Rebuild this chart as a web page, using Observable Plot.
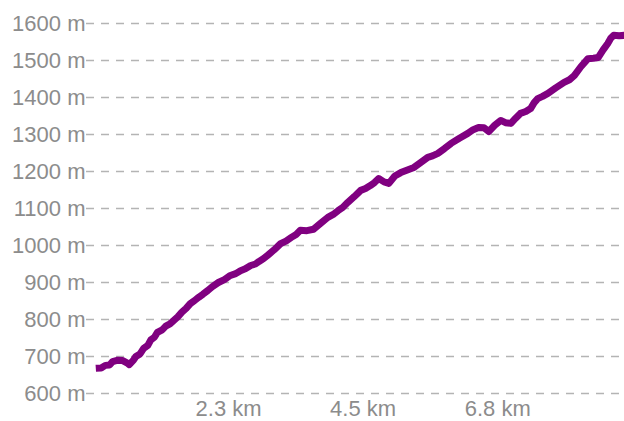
<!DOCTYPE html>
<html>
<head>
<meta charset="utf-8">
<script src="https://cdn.jsdelivr.net/npm/d3@7"></script>
<script src="https://cdn.jsdelivr.net/npm/@observablehq/plot@0.6"></script>
<style>
  html, body { margin: 0; padding: 0; background: #fff; }
  #chart svg { display: block; }
</style>
</head>
<body>
<div id="chart"></div>
<script>
// distance along route (km)
const dist = [0.03, 0.12, 0.19, 0.26, 0.31, 0.40, 0.48, 0.55, 0.59, 0.66, 0.70, 0.77, 0.83, 0.90, 0.95, 1.01, 1.06, 1.14, 1.20, 1.27, 1.33, 1.40, 1.47, 1.54, 1.61, 1.68, 1.75, 1.82, 1.90, 1.98, 2.08, 2.18, 2.28, 2.37, 2.45, 2.53, 2.62, 2.70, 2.76, 2.83, 2.90, 3.01, 3.12, 3.21, 3.30, 3.38, 3.45, 3.56, 3.67, 3.79, 3.91, 4.00, 4.08, 4.16, 4.24, 4.35, 4.46, 4.54, 4.62, 4.69, 4.76, 4.85, 4.93, 5.03, 5.13, 5.24, 5.35, 5.46, 5.58, 5.66, 5.75, 5.86, 5.97, 6.11, 6.25, 6.34, 6.43, 6.52, 6.60, 6.70, 6.80, 6.88, 6.97, 7.05, 7.13, 7.22, 7.30, 7.36, 7.42, 7.50, 7.59, 7.72, 7.86, 7.95, 8.03, 8.14, 8.26, 8.35, 8.43, 8.51, 8.59, 8.64, 8.69, 8.78, 8.87];
// elevation (m)
const elev = [668, 669, 676, 677, 686, 690, 689, 683, 678, 690, 700, 707, 722, 730, 745, 752, 765, 772, 782, 788, 797, 807, 820, 830, 843, 851, 860, 868, 878, 889, 900, 908, 919, 924, 932, 937, 946, 950, 957, 964, 973, 988, 1005, 1012, 1022, 1030, 1041, 1040, 1044, 1060, 1076, 1084, 1094, 1103, 1116, 1132, 1149, 1154, 1162, 1170, 1181, 1172, 1168, 1188, 1197, 1204, 1211, 1224, 1238, 1242, 1249, 1262, 1276, 1290, 1303, 1313, 1319, 1318, 1308, 1325, 1338, 1332, 1330, 1344, 1357, 1362, 1370, 1386, 1397, 1403, 1411, 1426, 1441, 1448, 1459, 1483, 1505, 1506, 1508, 1528, 1546, 1560, 1568, 1567, 1568];
const yTicks = [600, 700, 800, 900, 1000, 1100, 1200, 1300, 1400, 1500, 1600];
const xTicks = [2.25, 4.5, 6.75];

const data = dist.map((d, i) => ({dist: d, elev: elev[i]}));

const chart = Plot.plot({
  width: 624,
  height: 421,
  marginLeft: 86,
  marginRight: 0,
  marginTop: 23,
  marginBottom: 28,
  style: {fontFamily: "'Liberation Sans', Arial, sans-serif", color: "#8c8c8c", background: "#fff"},
  x: {domain: [0, 8.87], range: [93.5, 624], label: null},
  y: {domain: [600, 1600], label: null},
  marks: [
    Plot.gridY(yTicks, {stroke: "#b4b4b4", strokeOpacity: 1, strokeWidth: 1.5, strokeDasharray: "8,7"}),
    Plot.axisY({ticks: yTicks, tickFormat: d => d + " m", tickSize: 0, tickPadding: 1, fontSize: 22, label: null}),
    Plot.axisX({ticks: xTicks, tickFormat: d => d.toFixed(1) + " km", tickSize: 0, tickPadding: 7, fontSize: 22, label: null}),
    Plot.line(data, {x: "dist", y: "elev", stroke: "#800080", strokeWidth: 7, strokeLinejoin: "round", strokeLinecap: "butt"})
  ]
});
document.getElementById("chart").appendChild(chart);
</script>
</body>
</html>
